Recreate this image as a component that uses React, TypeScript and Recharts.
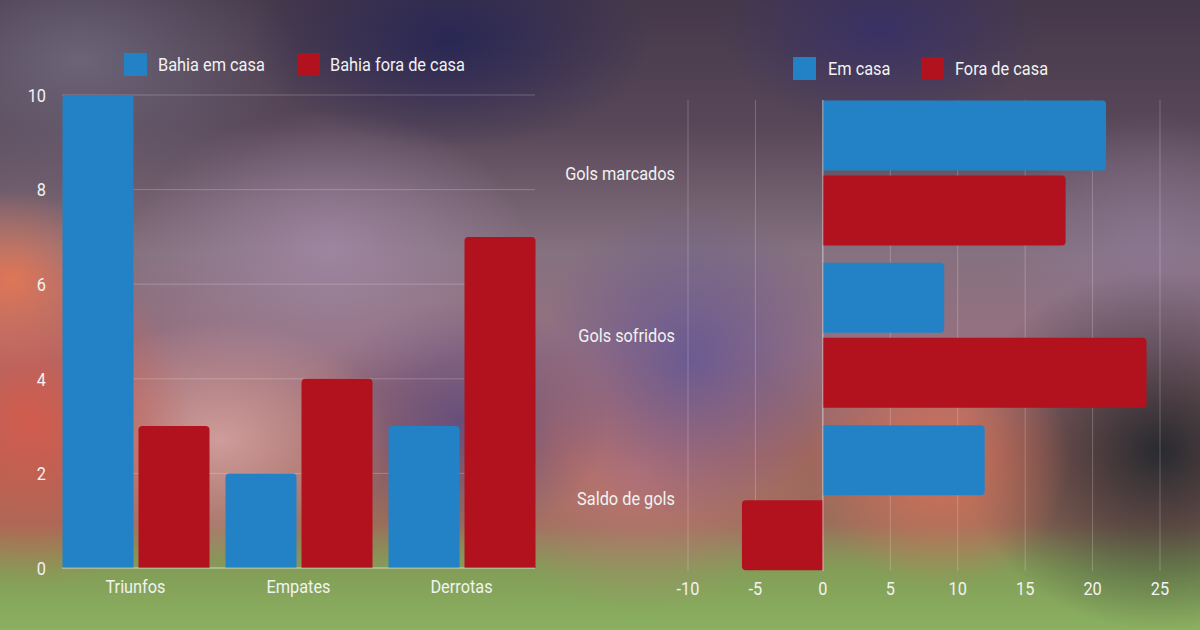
import React from 'react';
import { BarChart, Bar, XAxis, YAxis, CartesianGrid, ReferenceLine } from 'recharts';

const FONT = 'Roboto, "Noto Sans", sans-serif';
const SQUEEZE = 0.86;
const FS = 19;
const C = { BLUE: '#2382C6', RED: '#B1121D', TEXT: '#F2F2F2', GRID: 'rgba(255,255,255,0.22)', ZERO: 'rgba(255,255,255,0.45)' };

// results by match type
const resultCategories = ['Triunfos', 'Empates', 'Derrotas'];
const bahiaEmCasa = [10, 2, 3];
const bahiaForaDeCasa = [3, 4, 7];
const resultTicks = [0, 2, 4, 6, 8, 10];

// goals
const goalCategories = ['Gols marcados', 'Gols sofridos', 'Saldo de gols'];
const golsEmCasa = [21, 9, 12];
const golsForaDeCasa = [18, 24, -6];
const goalTicks = [-10, -5, 0, 5, 10, 15, 20, 25];

const resultsData = resultCategories.map((name, i) => ({ name, casa: bahiaEmCasa[i], fora: bahiaForaDeCasa[i] }));
const goalsData = goalCategories.map((name, i) => ({ name, casa: golsEmCasa[i], fora: golsForaDeCasa[i] }));

// blurred stadium photo, roughly
const BG = [
  'radial-gradient(ellipse 110px 90px at 10px 280px, rgba(228,118,84,0.95), rgba(228,118,84,0) 100%)',
  'radial-gradient(ellipse 160px 170px at 30px 420px, rgba(210,92,76,0.98), rgba(210,92,76,0) 100%)',
  'radial-gradient(ellipse 170px 120px at 220px 440px, rgba(215,165,165,0.85), rgba(215,165,165,0) 100%)',
  'radial-gradient(ellipse 200px 140px at 330px 250px, rgba(165,140,170,0.75), rgba(165,140,170,0) 100%)',
  'radial-gradient(ellipse 150px 120px at 460px 420px, rgba(85,70,130,0.75), rgba(85,70,130,0) 100%)',
  'radial-gradient(ellipse 150px 160px at 690px 360px, rgba(95,85,150,0.8), rgba(95,85,150,0) 100%)',
  'radial-gradient(ellipse 170px 140px at 640px 470px, rgba(195,120,120,0.8), rgba(195,120,120,0) 100%)',
  'radial-gradient(ellipse 130px 130px at 940px 460px, rgba(215,115,90,0.9), rgba(215,115,90,0) 100%)',
  'radial-gradient(ellipse 200px 180px at 1160px 450px, rgba(38,41,47,0.98), rgba(38,41,47,0) 100%)',
  'radial-gradient(ellipse 150px 140px at 1150px 250px, rgba(140,120,150,0.7), rgba(140,120,150,0) 100%)',
  'radial-gradient(ellipse 200px 110px at 450px 40px, rgba(35,35,85,0.85), rgba(35,35,85,0) 100%)',
  'radial-gradient(ellipse 160px 100px at 880px 30px, rgba(50,45,110,0.7), rgba(50,45,110,0) 100%)',
  'radial-gradient(ellipse 220px 140px at 80px 60px, rgba(120,115,135,0.7), rgba(120,115,135,0) 100%)',
  'linear-gradient(to bottom, rgba(0,0,0,0) 0%, rgba(0,0,0,0) 83%, rgba(130,160,88,0.95) 91%, rgba(138,176,96,1) 100%)',
  'linear-gradient(to bottom, #45384a 0%, #584758 20%, #85717f 40%, #967080 55%, #a0665e 72%, #9a6e5a 84%, #86a05a 100%)',
].join(', ');

type LegendItem = { label: string; color: string; boxX: number; textX: number };

const leftLegend: LegendItem[] = [
  { label: 'Bahia em casa', color: C.BLUE, boxX: 124, textX: 158 },
  { label: 'Bahia fora de casa', color: C.RED, boxX: 297, textX: 330 },
];
const rightLegend: LegendItem[] = [
  { label: 'Em casa', color: C.BLUE, boxX: 793, textX: 828 },
  { label: 'Fora de casa', color: C.RED, boxX: 921, textX: 955 },
];

const LegendRow = ({ items, top }: { items: LegendItem[]; top: number }) => (
  <>
    {items.map(it => (
      <React.Fragment key={it.label}>
        <div style={{ position: 'absolute', left: it.boxX, top, width: 23, height: 23, background: it.color }} />
        <div style={{
          position: 'absolute', left: it.textX, top, height: 23, lineHeight: '23px', whiteSpace: 'nowrap',
          fontFamily: FONT, fontSize: FS, color: C.TEXT, transform: `scaleX(${SQUEEZE})`, transformOrigin: 'left center',
        }}>{it.label}</div>
      </React.Fragment>
    ))}
  </>
);

// condensed-looking tick text
const makeTick = (anchor: 'middle' | 'end', dy: string) => (props: any) => {
  const { x, y, payload } = props;
  return (
    <text transform={`translate(${x},${y}) scale(${SQUEEZE},1)`} textAnchor={anchor} dy={dy}
      fill={C.TEXT} fontSize={FS} fontFamily={FONT}>{payload.value}</text>
  );
};
const BottomTick = makeTick('middle', '0.71em');
const LeftTick = makeTick('end', '0.355em');

export default function App() {
  return (
    <div style={{ position: 'absolute', left: 0, top: 0, width: 1200, height: 630, overflow: 'hidden', background: BG }}>
      <div style={{ position: 'absolute', left: 0, top: 0 }}>
        <BarChart width={560} height={630} data={resultsData} margin={{ top: 95, right: 25, bottom: 32, left: 12 }}
          barCategoryGap={8.5} barGap={5}>
          <CartesianGrid vertical={false} stroke={C.GRID} />
          <XAxis dataKey="name" axisLine={false} tickLine={false} tickSize={0} tickMargin={11} height={30}
            padding={{ left: -8, right: -8 }} tick={BottomTick} interval={0} />
          <YAxis type="number" domain={[0, 10]} ticks={resultTicks} axisLine={false} tickLine={false} tickSize={0}
            tickMargin={16} width={50} tick={LeftTick} />
          <ReferenceLine y={0} stroke={C.ZERO} />
          <Bar dataKey="casa" name="Bahia em casa" fill={C.BLUE} radius={[4, 4, 0, 0]} isAnimationActive={false} />
          <Bar dataKey="fora" name="Bahia fora de casa" fill={C.RED} radius={[4, 4, 0, 0]} isAnimationActive={false} />
        </BarChart>
      </div>
      <div style={{ position: 'absolute', left: 560, top: 0 }}>
        <BarChart width={640} height={630} data={goalsData} layout="vertical"
          margin={{ top: 100, right: 40, bottom: 29, left: 0 }} barCategoryGap={8.5} barGap={5}>
          <CartesianGrid horizontal={false} stroke={C.GRID} />
          <XAxis type="number" domain={[-10, 25]} ticks={goalTicks} axisLine={false} tickLine={false} tickSize={0}
            tickMargin={10} height={30} tick={BottomTick} interval={0} />
          <YAxis type="category" dataKey="name" axisLine={false} tickLine={false} tickSize={0} tickMargin={13}
            width={128} padding={{ top: -8, bottom: -8 }} tick={LeftTick} interval={0} />
          <ReferenceLine x={0} stroke={C.ZERO} />
          <Bar dataKey="casa" name="Em casa" fill={C.BLUE} radius={[0, 4, 4, 0]} isAnimationActive={false} />
          <Bar dataKey="fora" name="Fora de casa" fill={C.RED} radius={[0, 4, 4, 0]} isAnimationActive={false} />
        </BarChart>
      </div>
      <LegendRow items={leftLegend} top={53} />
      <LegendRow items={rightLegend} top={57} />
    </div>
  );
}
